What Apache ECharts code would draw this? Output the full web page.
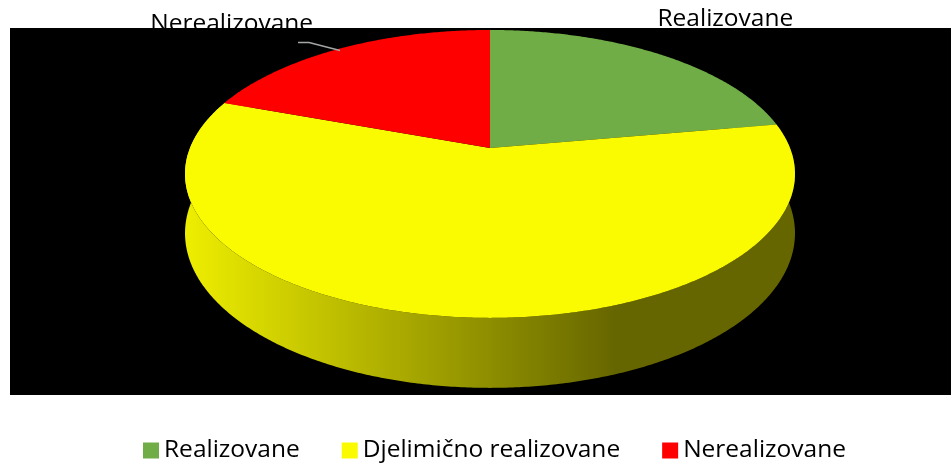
<!DOCTYPE html>
<html>
<head>
<meta charset="utf-8">
<script src="https://cdn.jsdelivr.net/npm/echarts@6/dist/echarts.min.js"></script>
<style>
  html, body { margin: 0; padding: 0; background: #fff; }
  #chart { width: 951px; height: 464px; }
</style>
</head>
<body>
<div id="chart"></div>
<script>
// podaci procitani sa slike
const categories = ['Realizovane', 'Djelimično realizovane', 'Nerealizovane'];
const values = [8, 21, 7];
const colors = ['#70ad47', '#fafa00', '#ff0000'];
const wallLight = ['#66a040', '#eeee00', '#f00000'];
const wallDark = ['#2d451c', '#666600', '#660000'];

const FONT = '"Open Sans", sans-serif';

// geometrija 3D pite (perspektiva)
const cx = 490, cy = 148;
const rx = 300, ry = 139.3;
const persp = 0.18;
const depth = 57.4;

function project(angle, drop) {
  const u = Math.sin(angle), v = -Math.cos(angle);
  const s = 1 / (1 - persp * v);
  return [cx + rx * u * s, cy + (ry * v + depth * drop) * s];
}

function arc(a0, a1, drop) {
  const pts = [];
  const n = Math.max(2, Math.ceil((a1 - a0) / (Math.PI / 360)));
  for (let i = 0; i <= n; i++) pts.push(project(a0 + (a1 - a0) * i / n, drop));
  return pts;
}

const total = values.reduce((a, b) => a + b, 0);
const startAngles = [];
let acc = 0;
values.forEach(v => { startAngles.push(acc / total * Math.PI * 2); acc += v; });

function sliceRange(idx) {
  const a0 = startAngles[idx];
  return [a0, a0 + values[idx] / total * Math.PI * 2];
}

function renderSlice(params, api) {
  const idx = params.dataIndex;
  const [a0, a1] = sliceRange(idx);
  const children = [];
  // bocni zid, samo prednji dio
  const w0 = Math.max(a0, Math.PI / 3), w1 = Math.min(a1, Math.PI * 5 / 3);
  if (w1 > w0) {
    const top = arc(w0, w1, 0);
    const bottom = arc(w0, w1, 1).reverse();
    children.push({
      type: 'polygon',
      z2: 1,
      shape: { points: top.concat(bottom) },
      style: {
        fill: new echarts.graphic.LinearGradient(185, 0, 615, 0, [
          { offset: 0, color: wallLight[idx] },
          { offset: 1, color: wallDark[idx] }
        ], true)
      }
    });
  }
  // gornja ploha
  children.push({
    type: 'polygon',
    z2: 10,
    shape: { points: [[cx, cy]].concat(arc(a0, a1, 0)) },
    style: { fill: colors[idx] }
  });
  // linija do oznake (samo za straznje kriske na lijevoj strani)
  const mid = (a0 + a1) / 2;
  const e = project(mid, 0);
  if (e[0] < cx && Math.cos(mid) > 0) {
    children.push({
      type: 'polyline',
      z2: 20,
      shape: { points: [[e[0], e[1] + 2], [e[0] - 31, e[1] - 6], [e[0] - 42, e[1] - 6]] },
      style: { stroke: '#a6a6a6', lineWidth: 1.5, fill: null }
    });
  }
  return { type: 'group', children };
}

function renderLabel(params, api) {
  const idx = params.dataIndex;
  const [a0, a1] = sliceRange(idx);
  const e = project((a0 + a1) / 2, 0);
  const left = e[0] < cx;
  return {
    type: 'text',
    x: left ? e[0] - 27 : e[0] - 2,
    y: left ? e[1] - 25 : e[1] - 35,
    style: {
      text: categories[idx],
      fill: '#000',
      font: '24.5px ' + FONT,
      align: left ? 'right' : 'left',
      verticalAlign: 'middle'
    }
  };
}

const chart = echarts.init(document.getElementById('chart'));

chart.setOption({
  animation: false,
  backgroundColor: '#fff',
  graphic: [{
    type: 'rect',
    z: 1,
    shape: { x: 10, y: 28, width: 941, height: 367 },
    style: { fill: '#000' },
    silent: true
  }],
  legend: {
    top: 433,
    left: 138,
    icon: 'rect',
    itemWidth: 16,
    itemHeight: 16,
    itemGap: 42,
    textStyle: { fontSize: 24.5, fontFamily: FONT, color: '#000' },
    data: categories
  },
  series: [
    {
      // oznake ispod crne podloge
      type: 'custom',
      coordinateSystem: 'none',
      z: 0,
      silent: true,
      data: values,
      renderItem: renderLabel
    },
    {
      type: 'custom',
      coordinateSystem: 'none',
      z: 2,
      silent: true,
      data: values,
      renderItem: renderSlice
    },
    {
      // samo za legendu
      type: 'pie',
      radius: [0, 0],
      silent: true,
      label: { show: false },
      labelLine: { show: false },
      data: categories.map((name, i) => ({
        name: name,
        value: values[i],
        itemStyle: { color: colors[i] }
      }))
    }
  ]
});
</script>
</body>
</html>
